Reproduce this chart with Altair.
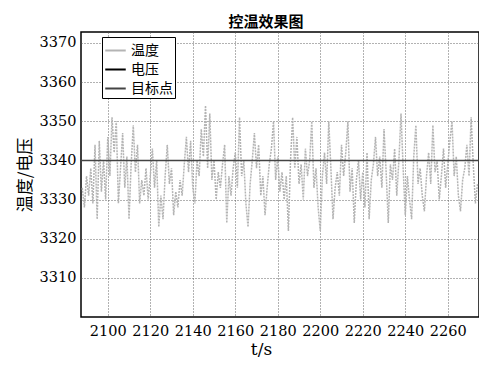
import altair as alt
import pandas as pd

title_text = "控温效果图"
series_names = ["温度", "电压", "目标点"]
series_colors = ["#b4b4b4", "#000000", "#444444"]

t_start = 2088
temperature = [
    3333, 3328, 3336, 3331, 3338, 3329, 3344, 3325, 3345, 3332,
    3340, 3330, 3346, 3336, 3351, 3342, 3350, 3329, 3338, 3347,
    3333, 3341, 3325, 3339, 3349, 3337, 3344, 3329, 3335, 3331,
    3338, 3330, 3336, 3343, 3333, 3340, 3323, 3331, 3325, 3336,
    3344, 3334, 3338, 3326, 3332, 3328, 3335, 3331, 3339, 3346,
    3337, 3345, 3333, 3329, 3340, 3336, 3348, 3341, 3354, 3338,
    3352, 3335, 3340, 3330, 3337, 3333, 3339, 3344, 3324, 3336,
    3331, 3338, 3342, 3333, 3351, 3336, 3340, 3329, 3323, 3334,
    3340, 3347, 3338, 3344, 3331, 3336, 3326, 3333, 3339, 3343,
    3350, 3335, 3341, 3332, 3337, 3330, 3336, 3322, 3340, 3351,
    3338, 3346, 3334, 3339, 3330, 3343, 3336, 3340, 3350, 3333,
    3338, 3328, 3322, 3336, 3342, 3334, 3350, 3338, 3325, 3333,
    3337, 3331, 3344, 3336, 3342, 3350, 3332, 3338, 3324, 3335,
    3340, 3330, 3337, 3328, 3342, 3325, 3335, 3339, 3346, 3336,
    3341, 3333, 3348, 3337, 3324, 3339, 3335, 3343, 3331, 3340,
    3352, 3338, 3326, 3336, 3330, 3325, 3341, 3349, 3334, 3338,
    3331, 3327, 3336, 3342, 3334, 3349, 3337, 3340, 3330, 3336,
    3343, 3333, 3339, 3345, 3350, 3336, 3341, 3331, 3327, 3335,
    3338, 3344, 3336, 3351, 3339, 3329, 3334,
]
times = list(range(t_start, t_start + len(temperature)))
target_value = [3340]

x_ticks = [2100, 2120, 2140, 2160, 2180, 2200, 2220, 2240, 2260]
y_ticks = [3310, 3320, 3330, 3340, 3350, 3360, 3370]
x_domain = [2087.4, 2274.7]
y_domain = [3300, 3372.8]

serif = "DejaVu Serif"
cjk = "Noto Sans CJK SC"

temp_df = pd.DataFrame({"t": times, "v": temperature, "s": ["温度"] * len(times)})
target_df = pd.DataFrame({"v": target_value, "s": ["目标点"]})

color = alt.Color(
    "s:N",
    scale=alt.Scale(domain=series_names, range=series_colors),
    legend=alt.Legend(
        title=None,
        orient="none",
        legendX=21,
        legendY=5,
        symbolType="stroke",
        symbolSize=420,
        symbolStrokeWidth=2,
        strokeColor="#000000",
        fillColor="#ffffff",
        padding=2,
        rowPadding=0,
        labelFont=cjk,
        labelFontSize=14,
        labelColor="#000000",
        labelLimit=200,
    ),
)

x_enc = alt.X(
    "t:Q",
    scale=alt.Scale(domain=x_domain, nice=False, zero=False),
    axis=alt.Axis(values=x_ticks, title="t/s", format="d"),
)
y_enc = alt.Y(
    "v:Q",
    scale=alt.Scale(domain=y_domain, nice=False, zero=False),
    axis=alt.Axis(values=y_ticks, title="温度/电压", format="d"),
)

temp_line = alt.Chart(temp_df).mark_line(
    strokeWidth=1.5, strokeDash=[2, 1], clip=True
).encode(x=x_enc, y=y_enc, color=color)

target_rule = alt.Chart(target_df).mark_rule(strokeWidth=1.5).encode(
    y=alt.Y("v:Q", scale=alt.Scale(domain=y_domain, nice=False, zero=False)),
    color=color,
)

chart = (
    alt.layer(temp_line, target_rule)
    .properties(
        width=398,
        height=285,
        title=alt.TitleParams(
            title_text,
            font=cjk,
            fontSize=15,
            fontWeight="bold",
            color="#000000",
            dx=-14,
            offset=2,
        ),
        autosize=alt.AutoSizeParams(type="none"),
        padding={"left": 73, "top": 24, "right": 0, "bottom": 47},
    )
    .configure_view(stroke="#000000", strokeWidth=1.5)
    .configure_axis(
        domain=False,
        ticks=False,
        grid=True,
        gridColor="#555555",
        gridDash=[1, 2],
        gridWidth=1,
        gridOpacity=0.9,
        labelFont=serif,
        labelFontSize=14.5,
        labelColor="#000000",
        titleColor="#000000",
        titleFontWeight="normal",
    )
    .configure_axisX(labelPadding=7, titleFont=serif, titleFontSize=17, titlePadding=4, titleX=180)
    .configure_axisY(labelPadding=5, titleFont=cjk, titleFontSize=17, titlePadding=5)
)

chart.save("out.html", embed_options={"renderer": "svg", "actions": False})
